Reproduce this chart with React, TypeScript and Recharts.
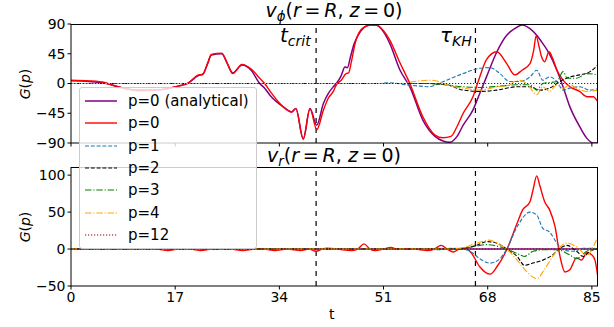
import { LineChart, Line, XAxis, YAxis, ReferenceLine } from 'recharts';

const tTicks = [0, 17, 34, 51, 68, 85];
const phiTicks = [-90, -45, 0, 45, 90];
const rTicks = [-50, 0, 50, 100];
const tCrit = 40;
const tKH = 66;
const seriesNames = ['p=0 (analytical)', 'p=0', 'p=1', 'p=2', 'p=3', 'p=4', 'p=12'];

// v_phi(r=R, z=0)
const phiAnaT = [0, 3, 5.5, 7, 9, 11, 14, 17.5, 19, 20.8, 21.5, 22.3, 22.9, 24.6, 25.5, 26.4, 27.9, 29.4, 30.8, 31.6, 32.5, 34.6, 36, 36.7, 37.9, 39, 40.1, 41.2, 42, 42.8, 43.3, 44.1, 44.7, 45.1, 45.6, 46.2, 46.8, 48, 48.8, 49.9, 51, 52, 53.7, 55.3, 57.4, 59.4, 60.7, 61.8, 63, 64, 65.6, 66.7, 67.8, 69.5, 71.1, 72.4, 73.6, 74.9, 76, 76.8, 78, 79.3, 80.3, 81.4, 83, 84.2, 85.2, 86];
const phiAnaV = [4, 3, 0.5, -3, -8, -10, -10, -4, 0, 12, 14, 30, 43, 45, 30, 16, 28, 20, 0, -7, -18, -35, -43, -38, -84, -38, -63, -30, -15, -5, 0, 12, 25, 24, 40, 60, 72, 86, 88.5, 88, 78, 61, 20, -5, -55, -80, -87, -89, -80, -63, -40, -15, 10, 48, 73, 83, 88.5, 83, 73, 63, 46, 20, -5, -35, -65, -83, -90, -90];

const phiP0T = [0, 3, 5.5, 7.2, 9, 11, 14, 17.5, 19, 20.8, 21.5, 22.3, 22.9, 24.6, 25.5, 26.4, 27.9, 29.4, 30.8, 31.6, 32.5, 34.6, 36, 36.7, 37.9, 39, 40.1, 41.2, 42, 42.8, 43.3, 44.1, 44.9, 45.3, 45.8, 46.4, 47, 48, 48.8, 49.9, 51, 52, 53.7, 55.3, 57.4, 59.4, 60.7, 62, 63, 64, 65.6, 66.7, 67.8, 69.5, 71.1, 72.4, 73.6, 74.9, 75.5, 75.9, 76.4, 76.8, 77.3, 78, 78.6, 79.3, 80.3, 81.4, 83, 84.2, 85.2, 86];
const phiP0V = [5, 4, 1.5, -4, -8, -11, -10, -4, 0, 13, 14, 31, 44, 46, 31, 15, 29, 22, 8, 0, -12, -35, -43, -38, -84, -38, -70, -40, -22, -12, -2, 5, 15, 16, 35, 62, 77, 86, 88.5, 88, 80, 66, 31, 0, -50, -78, -82, -80, -65, -45, -20, 10, 36, 48, 30, 13, 20, 30, 50, 72, 55, 40, 33, 48, 38, 20, 5, -5, -12, -20, -20, -28];

const phiP1T = [0, 50, 52, 54.8, 57, 58.5, 60, 61.3, 64, 66.7, 68.4, 70, 71.6, 73.2, 74.9, 76, 77, 78.1, 79.3, 80.3, 81.4, 83, 84.7, 86];
const phiP1V = [0, 0, 1, -2, -4, -5, 0, 5, 15, 23, 24, 15, 3, 3, 10, 20, 5, 10, 3, -10, -7, -5, -10, -8];

const phiP2T = [0, 58, 61.3, 64, 66.7, 69.5, 72.8, 74.9, 76.5, 78.1, 79.8, 81.4, 83, 84.7, 86];
const phiP2V = [0, 0, -2, -10, -12, -10, -5, -5, -10, -7, 3, 10, 13, 18, 28];

const phiP3T = [0, 58, 61, 64, 67, 70, 72.8, 74.9, 76, 77, 79.3, 80.3, 81, 82.5, 84.2, 86];
const phiP3V = [0, 0, -2, -5, -6, -4, -2, -2, -10, 0, 3, 18, 8, 8, 15, 13];

const phiP4T = [0, 54, 56, 58.5, 60, 61.3, 64, 66.7, 69.5, 71.6, 72.8, 74.4, 76, 77, 78.1, 79.3, 80.3, 81.4, 82.5, 84.2, 86];
const phiP4V = [0, 0, 3, 5, 3, -2, -7, -10, -5, -2, 5, 0, -17, -5, -12, -2, -7, -2, -7, -12, -10];

const phiP12T = [0, 86];
const phiP12V = [0, 0];

// v_r(r=R, z=0)
const rAnaT = [0, 86];
const rAnaV = [0, 0];

const rP0T = [0, 14, 15.8, 17.5, 19.5, 21.2, 23, 26, 28, 30, 31.5, 33.2, 35.3, 37.5, 38.8, 40, 41, 41.8, 43.5, 45.7, 46.8, 47.8, 48.8, 49.7, 51, 52.2, 53.3, 56, 58.2, 59.3, 60.4, 61.4, 62.4, 63.3, 64.2, 65.3, 66.7, 68.4, 69.5, 71.1, 72.8, 73.7, 74.9, 75.4, 76, 76.5, 77.3, 78.1, 79, 79.8, 80.6, 81.4, 82.5, 83.3, 84.2, 85, 85.5, 86];
const rP0V = [0, 0, -2, 0, 0, -2, 0, 0, -2, 0, 0, -2, 0, -2, 0, -3, 0, 1, 0, -2, 0, 7, 0, -2, 0, 2, 0, 0, -2, 0, 5, 0, -4, 0, 1, -5, -24, -34, -24, -1, 35, 53, 64, 80, 99, 86, 64, 53, 30, -10, -31, -28, -12, -15, -5, -8, -15, -39];

const rP1T = [0, 58, 60, 62, 64, 65.5, 66.7, 68.4, 70, 71.1, 72.8, 74.9, 76, 77, 78.1, 79.3, 80.3, 82, 83.6, 85.2, 86];
const rP1V = [0, 0, -1, 1, 0, -5, -13, -19, -13, 0, 30, 50, 46, 28, 23, 8, -1, -3, 1, 1, 0];

const rP2T = [0, 62, 64, 66.2, 67.8, 69.5, 71.1, 72.8, 74, 75.4, 77, 78.6, 79.8, 80.9, 82.5, 83.6, 84.7, 86];
const rP2V = [0, 0, 1, 5, 10, 8, 0, -10, -22, -19, -15, -8, 1, 5, -3, -10, -3, 0];

const rP3T = [0, 62, 64, 66.2, 67.8, 69.5, 71.1, 72.8, 74, 75.4, 77, 79.3, 81.4, 82.5, 84.2, 86];
const rP3V = [0, 0, 1, 4, 6, 4, 0, -6, -10, -3, -1, -1, -8, -13, -3, 1];

const rP4T = [0, 62, 64, 66.2, 68.3, 69.5, 71.1, 72.8, 74.4, 76, 77.3, 78.6, 79.8, 80.9, 82.5, 84.2, 85.2, 86];
const rP4V = [0, 0, 2, 8, 12, 8, 0, -15, -31, -40, -27, -10, 3, 8, 3, -8, 3, 17];

const rP12T = [0, 86];
const rP12V = [0, 0];

const pts = (ts: number[], vs: number[]) => ts.map((t, i) => ({ t, v: vs[i] }));

const phiSeries = [
  pts(phiAnaT, phiAnaV),
  pts(phiP0T, phiP0V),
  pts(phiP1T, phiP1V),
  pts(phiP2T, phiP2V),
  pts(phiP3T, phiP3V),
  pts(phiP4T, phiP4V),
  pts(phiP12T, phiP12V),
];
const rSeries = [
  pts(rAnaT, rAnaV),
  pts(rP0T, rP0V),
  pts(rP1T, rP1V),
  pts(rP2T, rP2V),
  pts(rP3T, rP3V),
  pts(rP4T, rP4V),
  pts(rP12T, rP12V),
];

const lineStyles = [
  { stroke: '#800080', width: 1.5, dash: undefined },
  { stroke: '#ff0000', width: 1.4, dash: undefined },
  { stroke: '#1f77b4', width: 1.1, dash: '4 1.8' },
  { stroke: '#000000', width: 1.1, dash: '4 1.8' },
  { stroke: '#008000', width: 1.1, dash: '6.5 1.8 1.2 1.8' },
  { stroke: '#ffa500', width: 1.1, dash: '6.5 1.8 1.2 1.8' },
  { stroke: '#8b0000', width: 1.1, dash: '1.2 1.8' },
];

const FONT = '"DejaVu Sans", sans-serif';
const fmt = (v: number) => (v < 0 ? '\u2212' + Math.abs(v) : String(v));

type PanelProps = {
  series: { t: number; v: number }[][];
  domain: [number, number];
  ticks: number[];
  height: number;
  marginTop: number;
  xAxisHeight: number;
  showXLabels: boolean;
};

function Panel({ series, domain, ticks, height, marginTop, xAxisHeight, showXLabels }: PanelProps) {
  return (
    <LineChart width={614} height={height} margin={{ top: marginTop, right: 16, left: 0, bottom: 0 }}>
      <XAxis
        type="number"
        dataKey="t"
        domain={[0, 86]}
        ticks={tTicks}
        interval={0}
        allowDataOverflow
        height={xAxisHeight}
        tickSize={3.5}
        tickMargin={3}
        stroke="#000"
        tickFormatter={showXLabels ? (v: number) => String(v) : () => ''}
        tick={{ fill: '#000', fontSize: 14, fontFamily: FONT }}
      />
      <YAxis
        type="number"
        domain={domain}
        ticks={ticks}
        interval={0}
        allowDataOverflow
        width={71}
        tickSize={3.5}
        tickMargin={2}
        stroke="#000"
        tickFormatter={fmt}
        tick={{ fill: '#000', fontSize: 14, fontFamily: FONT }}
      />
      <ReferenceLine x={tCrit} stroke="#000" strokeWidth={1.2} strokeDasharray="5 5" />
      <ReferenceLine x={tKH} stroke="#000" strokeWidth={1.2} strokeDasharray="5 5" />
      {series.map((d, i) => (
        <Line
          key={i}
          data={d}
          dataKey="v"
          type="monotone"
          stroke={lineStyles[i].stroke}
          strokeWidth={lineStyles[i].width}
          strokeDasharray={lineStyles[i].dash}
          dot={false}
          activeDot={false}
          isAnimationActive={false}
        />
      ))}
    </LineChart>
  );
}

const abs = (left: number, top: number): React.CSSProperties => ({ position: 'absolute', left, top });
const subStyle: React.CSSProperties = { fontSize: '0.7em', position: 'relative', top: '0.3em', verticalAlign: 'baseline', lineHeight: 0 };
const thin = '\u2009';

export default function App() {
  return (
    <div style={{ position: 'absolute', left: 0, top: 0, width: 614, height: 327, background: '#fff', fontFamily: FONT, color: '#000' }}>
      <div style={abs(0, 0)}>
        <Panel series={phiSeries} domain={[-90, 90]} ticks={phiTicks} height={150} marginTop={24} xAxisHeight={7} showXLabels={false} />
      </div>
      <div style={abs(0, 150)}>
        <Panel series={rSeries} domain={[-50, 111]} ticks={rTicks} height={177} marginTop={17} xAxisHeight={41} showXLabels />
      </div>

      {/* top and right spines */}
      <div style={{ ...abs(71, 24), width: 527, height: 119, borderTop: '1px solid #000', borderRight: '1px solid #000', boxSizing: 'border-box', pointerEvents: 'none' }} />
      <div style={{ ...abs(71, 167), width: 527, height: 119, borderTop: '1px solid #000', borderRight: '1px solid #000', boxSizing: 'border-box', pointerEvents: 'none' }} />

      {/* titles */}
      <div style={{ ...abs(234, 0), width: 200, textAlign: 'center', fontSize: 19, lineHeight: '21px', whiteSpace: 'nowrap' }}>
        <i>v</i><span style={subStyle}><i>ϕ</i></span>(<i>r</i>{thin}={thin}<i>R</i>, <i>z</i>{thin}={thin}0)
      </div>
      <div style={{ ...abs(234, 145), width: 200, textAlign: 'center', fontSize: 19, lineHeight: '21px', whiteSpace: 'nowrap' }}>
        <i>v</i><span style={subStyle}><i>r</i></span>(<i>r</i>{thin}={thin}<i>R</i>, <i>z</i>{thin}={thin}0)
      </div>

      {/* annotations */}
      <div style={{ ...abs(280, 24), fontSize: 20, lineHeight: '22px', whiteSpace: 'nowrap' }}>
        <i>t</i><span style={subStyle}><i>crit</i></span>
      </div>
      <div style={{ ...abs(440, 24), fontSize: 20, lineHeight: '22px', whiteSpace: 'nowrap' }}>
        <i>τ</i><span style={subStyle}><i>KH</i></span>
      </div>

      {/* axis labels */}
      <div style={{ ...abs(25, 84), transform: 'translate(-50%, -50%) rotate(-90deg)', fontSize: 14, whiteSpace: 'nowrap' }}>
        <i>G</i>(<i>p</i>)
      </div>
      <div style={{ ...abs(25, 227), transform: 'translate(-50%, -50%) rotate(-90deg)', fontSize: 14, whiteSpace: 'nowrap' }}>
        <i>G</i>(<i>p</i>)
      </div>
      <div style={{ ...abs(329, 306), fontSize: 14 }}>t</div>

      {/* legend */}
      <div
        style={{
          ...abs(79, 87),
          width: 178,
          height: 162,
          background: 'rgba(255,255,255,0.8)',
          border: '1px solid #cccccc',
          borderRadius: 3,
          boxSizing: 'border-box',
          zIndex: 5,
        }}
      >
        {seriesNames.map((name, i) => (
          <div key={name} style={{ position: 'absolute', left: 0, top: 13 + i * 22.3 - 10, height: 20, display: 'flex', alignItems: 'center' }}>
            <svg width={44} height={20} style={{ marginLeft: 4 }}>
              <line
                x1={1}
                x2={33}
                y1={10}
                y2={10}
                stroke={lineStyles[i].stroke}
                strokeWidth={lineStyles[i].width}
                strokeDasharray={lineStyles[i].dash}
              />
            </svg>
            <span style={{ fontSize: 15 }}>{name}</span>
          </div>
        ))}
      </div>
    </div>
  );
}
